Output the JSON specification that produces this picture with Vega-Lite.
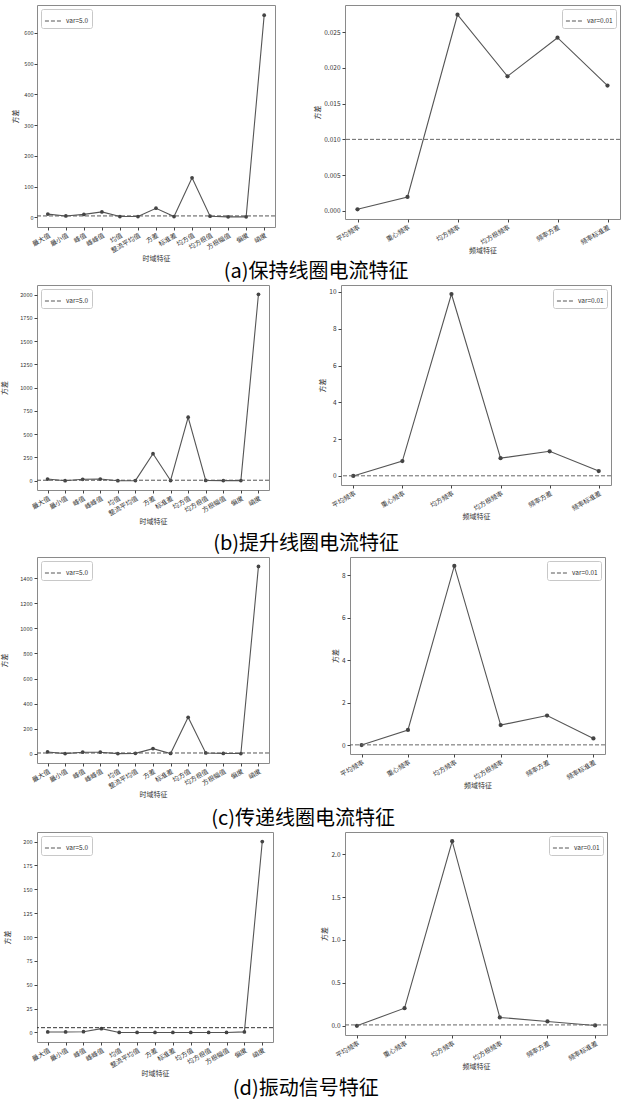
{
  "$schema": "https://vega.github.io/schema/vega-lite/v6.json",
  "padding": {"left": 0, "top": 4, "right": 2, "bottom": 0},
  "background": "white",
  "columns": 1,
  "resolve": {"scale": {"strokeDash": "independent"}, "legend": {"strokeDash": "independent"}},
  "concat": [
    {
      "title": {"text": "(a)保持线圈电流特征", "offset": 0},
      "spacing": 37,
      "resolve": {"scale": {"strokeDash": "independent"}, "legend": {"strokeDash": "independent"}},
      "hconcat": [
        {
          "width": 238, "height": 222,
          "data": {"values": [
            {"feature": "最大值", "var": 11}, {"feature": "最小值", "var": 5}, {"feature": "峰值", "var": 10},
            {"feature": "峰峰值", "var": 18}, {"feature": "均值", "var": 3}, {"feature": "整流平均值", "var": 3},
            {"feature": "方差", "var": 30}, {"feature": "标准差", "var": 3}, {"feature": "均方值", "var": 129},
            {"feature": "均方根值", "var": 4}, {"feature": "方根幅值", "var": 2}, {"feature": "偏度", "var": 2},
            {"feature": "峭度", "var": 658}
          ]},
          "encoding": {"y": {"field": "var", "type": "quantitative", "title": "方差", "scale": {"domain": [-31, 691], "nice": false, "zero": false}, "axis": {"values": [0, 100, 200, 300, 400, 500, 600], "format": "d", "titlePadding": 5, "labelPadding": 1, "labelFontSize": 5.5}}},
          "layer": [
            {"mark": {"type": "line", "color": "#555", "strokeWidth": 1.1}, "encoding": {"x": {"field": "feature", "type": "nominal", "sort": null, "title": "时域特征", "scale": {"type": "point", "padding": 0.6}}}},
            {"mark": {"type": "point", "filled": true, "color": "#444", "size": 14, "opacity": 1}, "encoding": {"x": {"field": "feature", "type": "nominal", "sort": null, "scale": {"type": "point", "padding": 0.6}}}},
            {"data": {"values": [{"label": "var=5.0", "var": 5}]}, "mark": {"type": "rule", "color": "#555", "strokeWidth": 1}, "encoding": {"strokeDash": {"field": "label", "type": "nominal", "scale": {"range": [[4, 2]]}, "legend": {"orient": "top-left", "title": null}}}}
          ]
        },
        {
          "width": 275, "height": 214,
          "data": {"values": [
            {"feature": "平均频率", "var": 0.00023}, {"feature": "重心频率", "var": 0.00195}, {"feature": "均方频率", "var": 0.02742},
            {"feature": "均方根频率", "var": 0.01882}, {"feature": "频率方差", "var": 0.02421}, {"feature": "频率标准差", "var": 0.01752}
          ]},
          "encoding": {"y": {"field": "var", "type": "quantitative", "title": "方差", "scale": {"domain": [-0.00113, 0.02878], "nice": false, "zero": false}, "axis": {"values": [0, 0.005, 0.01, 0.015, 0.02, 0.025], "format": ".3f"}}},
          "layer": [
            {"mark": {"type": "line", "color": "#555", "strokeWidth": 1.1}, "encoding": {"x": {"field": "feature", "type": "nominal", "sort": null, "title": "频域特征", "scale": {"type": "point", "padding": 0.25}}}},
            {"mark": {"type": "point", "filled": true, "color": "#444", "size": 18, "opacity": 1}, "encoding": {"x": {"field": "feature", "type": "nominal", "sort": null, "scale": {"type": "point", "padding": 0.25}}}},
            {"data": {"values": [{"label": "var=0.01", "var": 0.01}]}, "mark": {"type": "rule", "color": "#666", "strokeWidth": 1}, "encoding": {"strokeDash": {"field": "label", "type": "nominal", "scale": {"range": [[4, 2]]}, "legend": {"orient": "top-right", "title": null}}}}
          ]
        }
      ]
    },
    {
      "title": {"text": "(b)提升线圈电流特征", "offset": 9},
      "spacing": 48,
      "resolve": {"scale": {"strokeDash": "independent"}, "legend": {"strokeDash": "independent"}},
      "hconcat": [
        {
          "width": 232, "height": 205,
          "data": {"values": [
            {"feature": "最大值", "var": 18}, {"feature": "最小值", "var": 0}, {"feature": "峰值", "var": 15},
            {"feature": "峰峰值", "var": 18}, {"feature": "均值", "var": 0}, {"feature": "整流平均值", "var": 1},
            {"feature": "方差", "var": 290}, {"feature": "标准差", "var": 2}, {"feature": "均方值", "var": 682},
            {"feature": "均方根值", "var": 3}, {"feature": "方根幅值", "var": 1}, {"feature": "偏度", "var": 1},
            {"feature": "峭度", "var": 2003}
          ]},
          "encoding": {"y": {"field": "var", "type": "quantitative", "title": "方差", "scale": {"domain": [-100, 2103], "nice": false, "zero": false}, "axis": {"values": [0, 250, 500, 750, 1000, 1250, 1500, 1750, 2000], "format": "d", "titlePadding": 12, "labelFontSize": 5.5}}},
          "layer": [
            {"mark": {"type": "line", "color": "#555", "strokeWidth": 1.1}, "encoding": {"x": {"field": "feature", "type": "nominal", "sort": null, "title": "时域特征", "scale": {"type": "point", "padding": 0.6}}}},
            {"mark": {"type": "point", "filled": true, "color": "#444", "size": 14, "opacity": 1}, "encoding": {"x": {"field": "feature", "type": "nominal", "sort": null, "scale": {"type": "point", "padding": 0.6}}}},
            {"data": {"values": [{"label": "var=5.0", "var": 5}]}, "mark": {"type": "rule", "color": "#555", "strokeWidth": 1}, "encoding": {"strokeDash": {"field": "label", "type": "nominal", "scale": {"range": [[4, 2]]}, "legend": {"orient": "top-left", "title": null}}}}
          ]
        },
        {
          "width": 270, "height": 200,
          "data": {"values": [
            {"feature": "平均频率", "var": 0}, {"feature": "重心频率", "var": 0.81}, {"feature": "均方频率", "var": 9.89},
            {"feature": "均方根频率", "var": 0.97}, {"feature": "频率方差", "var": 1.34}, {"feature": "频率标准差", "var": 0.27}
          ]},
          "encoding": {"y": {"field": "var", "type": "quantitative", "title": "方差", "scale": {"domain": [-0.49, 10.38], "nice": false, "zero": false}, "axis": {"values": [0, 2, 4, 6, 8, 10]}}},
          "layer": [
            {"mark": {"type": "line", "color": "#555", "strokeWidth": 1.1}, "encoding": {"x": {"field": "feature", "type": "nominal", "sort": null, "title": "频域特征", "scale": {"type": "point", "padding": 0.25}}}},
            {"mark": {"type": "point", "filled": true, "color": "#444", "size": 18, "opacity": 1}, "encoding": {"x": {"field": "feature", "type": "nominal", "sort": null, "scale": {"type": "point", "padding": 0.25}}}},
            {"data": {"values": [{"label": "var=0.01", "var": 0.01}]}, "mark": {"type": "rule", "color": "#666", "strokeWidth": 1}, "encoding": {"strokeDash": {"field": "label", "type": "nominal", "scale": {"range": [[4, 2]]}, "legend": {"orient": "top-right", "title": null}}}}
          ]
        }
      ]
    },
    {
      "title": {"text": "(c)传递线圈电流特征", "offset": 11},
      "spacing": 60,
      "resolve": {"scale": {"strokeDash": "independent"}, "legend": {"strokeDash": "independent"}},
      "hconcat": [
        {
          "width": 232, "height": 206,
          "data": {"values": [
            {"feature": "最大值", "var": 13}, {"feature": "最小值", "var": 0}, {"feature": "峰值", "var": 11},
            {"feature": "峰峰值", "var": 11}, {"feature": "均值", "var": 0}, {"feature": "整流平均值", "var": 2},
            {"feature": "方差", "var": 40}, {"feature": "标准差", "var": 1}, {"feature": "均方值", "var": 290},
            {"feature": "均方根值", "var": 5}, {"feature": "方根幅值", "var": 1}, {"feature": "偏度", "var": 0.5},
            {"feature": "峭度", "var": 1496}
          ]},
          "encoding": {"y": {"field": "var", "type": "quantitative", "title": "方差", "scale": {"domain": [-75, 1571], "nice": false, "zero": false}, "axis": {"values": [0, 200, 400, 600, 800, 1000, 1200, 1400], "format": "d", "titlePadding": 12, "labelFontSize": 5.5}}},
          "layer": [
            {"mark": {"type": "line", "color": "#555", "strokeWidth": 1.1}, "encoding": {"x": {"field": "feature", "type": "nominal", "sort": null, "title": "时域特征", "scale": {"type": "point", "padding": 0.6}}}},
            {"mark": {"type": "point", "filled": true, "color": "#444", "size": 14, "opacity": 1}, "encoding": {"x": {"field": "feature", "type": "nominal", "sort": null, "scale": {"type": "point", "padding": 0.6}}}},
            {"data": {"values": [{"label": "var=5.0", "var": 5}]}, "mark": {"type": "rule", "color": "#555", "strokeWidth": 1}, "encoding": {"strokeDash": {"field": "label", "type": "nominal", "scale": {"range": [[4, 2]]}, "legend": {"orient": "top-left", "title": null}}}}
          ]
        },
        {
          "width": 255, "height": 197,
          "data": {"values": [
            {"feature": "平均频率", "var": 0}, {"feature": "重心频率", "var": 0.71}, {"feature": "均方频率", "var": 8.43},
            {"feature": "均方根频率", "var": 0.94}, {"feature": "频率方差", "var": 1.39}, {"feature": "频率标准差", "var": 0.31}
          ]},
          "encoding": {"y": {"field": "var", "type": "quantitative", "title": "方差", "scale": {"domain": [-0.42, 8.85], "nice": false, "zero": false}, "axis": {"values": [0, 2, 4, 6, 8]}}},
          "layer": [
            {"mark": {"type": "line", "color": "#555", "strokeWidth": 1.1}, "encoding": {"x": {"field": "feature", "type": "nominal", "sort": null, "title": "频域特征", "scale": {"type": "point", "padding": 0.25}}}},
            {"mark": {"type": "point", "filled": true, "color": "#444", "size": 18, "opacity": 1}, "encoding": {"x": {"field": "feature", "type": "nominal", "sort": null, "scale": {"type": "point", "padding": 0.25}}}},
            {"data": {"values": [{"label": "var=0.01", "var": 0.01}]}, "mark": {"type": "rule", "color": "#666", "strokeWidth": 1}, "encoding": {"strokeDash": {"field": "label", "type": "nominal", "scale": {"range": [[4, 2]]}, "legend": {"orient": "top-right", "title": null}}}}
          ]
        }
      ]
    },
    {
      "title": {"text": "(d)振动信号特征", "offset": 2},
      "spacing": 46,
      "resolve": {"scale": {"strokeDash": "independent"}, "legend": {"strokeDash": "independent"}},
      "hconcat": [
        {
          "width": 236, "height": 210,
          "data": {"values": [
            {"feature": "最大值", "var": 0.5}, {"feature": "最小值", "var": 0.5}, {"feature": "峰值", "var": 0.8},
            {"feature": "峰峰值", "var": 4}, {"feature": "均值", "var": 0.02}, {"feature": "整流平均值", "var": 0.02},
            {"feature": "方差", "var": 0.02}, {"feature": "标准差", "var": 0.02}, {"feature": "均方值", "var": 0.02},
            {"feature": "均方根值", "var": 0.02}, {"feature": "方根幅值", "var": 0.02}, {"feature": "偏度", "var": 0.6},
            {"feature": "峭度", "var": 200}
          ]},
          "encoding": {"y": {"field": "var", "type": "quantitative", "title": "方差", "scale": {"domain": [-10, 210], "nice": false, "zero": false}, "axis": {"values": [0, 25, 50, 75, 100, 125, 150, 175, 200], "format": "d", "titlePadding": 12, "labelFontSize": 5.5}}},
          "layer": [
            {"mark": {"type": "line", "color": "#555", "strokeWidth": 1.1}, "encoding": {"x": {"field": "feature", "type": "nominal", "sort": null, "title": "时域特征", "scale": {"type": "point", "padding": 0.6}}}},
            {"mark": {"type": "point", "filled": true, "color": "#444", "size": 14, "opacity": 1}, "encoding": {"x": {"field": "feature", "type": "nominal", "sort": null, "scale": {"type": "point", "padding": 0.6}}}},
            {"data": {"values": [{"label": "var=5.0", "var": 5}]}, "mark": {"type": "rule", "color": "#333", "strokeWidth": 1}, "encoding": {"strokeDash": {"field": "label", "type": "nominal", "scale": {"range": [[4, 2]]}, "legend": {"orient": "top-left", "title": null}}}}
          ]
        },
        {
          "width": 262, "height": 203,
          "data": {"values": [
            {"feature": "平均频率", "var": 0}, {"feature": "重心频率", "var": 0.205}, {"feature": "均方频率", "var": 2.15},
            {"feature": "均方根频率", "var": 0.097}, {"feature": "频率方差", "var": 0.05}, {"feature": "频率标准差", "var": 0.004}
          ]},
          "encoding": {"y": {"field": "var", "type": "quantitative", "title": "方差", "scale": {"domain": [-0.1075, 2.2575], "nice": false, "zero": false}, "axis": {"values": [0, 0.5, 1, 1.5, 2], "format": ".1f"}}},
          "layer": [
            {"mark": {"type": "line", "color": "#555", "strokeWidth": 1.1}, "encoding": {"x": {"field": "feature", "type": "nominal", "sort": null, "title": "频域特征", "scale": {"type": "point", "padding": 0.25}}}},
            {"mark": {"type": "point", "filled": true, "color": "#444", "size": 18, "opacity": 1}, "encoding": {"x": {"field": "feature", "type": "nominal", "sort": null, "scale": {"type": "point", "padding": 0.25}}}},
            {"data": {"values": [{"label": "var=0.01", "var": 0.01}]}, "mark": {"type": "rule", "color": "#666", "strokeWidth": 1}, "encoding": {"strokeDash": {"field": "label", "type": "nominal", "scale": {"range": [[4, 2]]}, "legend": {"orient": "top-right", "title": null}}}}
          ]
        }
      ]
    }
  ],
  "spacing": 1,
  "config": {
    "font": "Noto Sans CJK SC",
    "view": {"stroke": "#8a8a8a", "strokeWidth": 1},
    "axis": {"grid": false, "domain": false, "tickColor": "#444", "tickSize": 3, "labelColor": "#333", "titleColor": "#333", "titleFontWeight": "normal", "labelFontSize": 6, "titleFontSize": 7, "labelPadding": 2, "titlePadding": 3},
    "axisX": {"labelAngle": -30, "labelAlign": "right", "labelBaseline": "top", "labelFontSize": 6.5, "titlePadding": 1},
    "axisY": {"labelFontSize": 6.5},
    "legend": {"strokeColor": "#c8c8c8", "cornerRadius": 2, "padding": 3, "offset": 4, "labelFontSize": 6.5, "labelColor": "#333", "symbolType": "stroke", "symbolSize": 260, "symbolStrokeWidth": 1, "symbolStrokeColor": "#555", "rowPadding": 0},
    "title": {"orient": "bottom", "anchor": "middle", "fontSize": 20, "fontWeight": "normal", "color": "#000", "font": "Noto Sans CJK SC"}
  }
}
